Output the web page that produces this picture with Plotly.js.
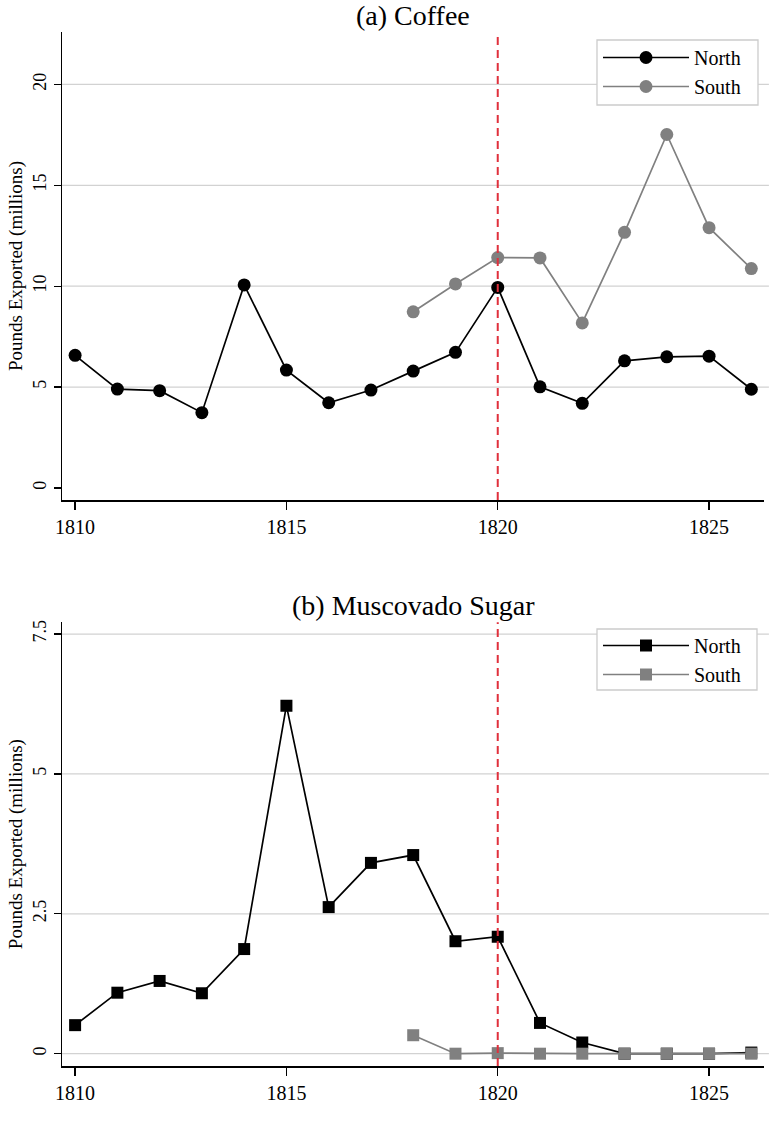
<!DOCTYPE html>
<html><head><meta charset="utf-8">
<script src="https://cdn.plot.ly/plotly-3.0.1.min.js"></script>
<style>body{margin:0;background:#fff}</style>
</head><body><div id="chart" style="width:780px;height:1131px"></div>
<script>
const years = [1810,1811,1812,1813,1814,1815,1816,1817,1818,1819,1820,1821,1822,1823,1824,1825,1826];
const coffeeNorth = [6.57,4.90,4.82,3.73,10.06,5.84,4.22,4.85,5.79,6.72,9.94,5.01,4.19,6.30,6.50,6.53,4.89];
const southYears = [1818,1819,1820,1821,1822,1823,1824,1825,1826];
const coffeeSouth = [8.73,10.11,11.42,11.40,8.18,12.67,17.52,12.90,10.87];
const sugarNorth = [0.51,1.09,1.30,1.08,1.87,6.22,2.62,3.41,3.55,2.01,2.09,0.55,0.20,0.0,0.0,0.0,0.02];
const sugarSouth = [0.33,0.0,0.01,0.0,0.0,0.0,0.0,0.0,0.0];
const xTicks = [1810,1815,1820,1825];
const coffeeYTicks = [0,5,10,15,20];
const coffeeGrid = [5,10,15,20];
const sugarYTicks = [0,2.5,5,7.5];
const sugarYTickText = ['0','2.5','5','7.5'];
const sugarGrid = [0,2.5,5,7.5];
const policyYear = 1820;
const seriesNames = ['North','South'];
const panelTitles = ['(a) Coffee','(b) Muscovado Sugar'];
const yTitle = 'Pounds Exported (millions)';

const FONT = 'Liberation Serif, Times New Roman, serif';
const BLACK = '#000000', GRAY = '#808080', RED = '#e0303c', GRID = '#d2d2d2';

const traces = [
  {x: years, y: coffeeNorth, name: seriesNames[0], xaxis:'x', yaxis:'y', legend:'legend',
   mode:'lines+markers', line:{color:BLACK,width:1.7}, marker:{symbol:'circle',size:13,color:BLACK}},
  {x: southYears, y: coffeeSouth, name: seriesNames[1], xaxis:'x', yaxis:'y', legend:'legend',
   mode:'lines+markers', line:{color:GRAY,width:1.7}, marker:{symbol:'circle',size:13,color:GRAY}},
  {x: years, y: sugarNorth, name: seriesNames[0], xaxis:'x2', yaxis:'y2', legend:'legend2',
   mode:'lines+markers', line:{color:BLACK,width:1.7}, marker:{symbol:'square',size:12,color:BLACK}},
  {x: southYears, y: sugarSouth, name: seriesNames[1], xaxis:'x2', yaxis:'y2', legend:'legend2',
   mode:'lines+markers', line:{color:GRAY,width:1.7}, marker:{symbol:'square',size:12,color:GRAY}}
];

const W = 780, H = 1131;
const px = v => v / W, py = v => (H - v) / H;

function xAxis(anchor, dom) {
  return {domain: dom, anchor: anchor, range:[1809.69,1826.3], tickvals: xTicks, ticktext: xTicks.map(String),
    showgrid:false, zeroline:false, showline:true, linecolor:BLACK, linewidth:1.5,
    ticks:'outside', ticklen:8, tickwidth:1.3, tickcolor:BLACK,
    tickfont:{family:FONT,size:20,color:BLACK}, fixedrange:true};
}
function yAxis(anchor, dom, range, tv, tt) {
  return {domain: dom, anchor: anchor, range: range, tickvals: tv, ticktext: tt,
    showgrid:false, zeroline:false,
    showline:true, linecolor:BLACK, linewidth:1.5,
    ticks:'outside', ticklen:7, tickwidth:1.3, tickcolor:BLACK, tickangle:-90,
    tickfont:{family:FONT,size:18,color:BLACK}, fixedrange:true};
}

const shapes = [];
coffeeGrid.forEach(v => shapes.push({type:'line', xref:'x domain', yref:'y', x0:0, x1:1.007, y0:v, y1:v,
  layer:'below', line:{color:GRID, width:1.2}}));
sugarGrid.forEach(v => shapes.push({type:'line', xref:'x2 domain', yref:'y2', x0:0, x1:1.007, y0:v, y1:v,
  layer:'below', line:{color:GRID, width:1.2}}));
shapes.push({type:'line', xref:'x', yref:'y domain', x0:policyYear, x1:policyYear, y0:0, y1:1,
  line:{color:RED, width:2, dash:'8px,5px'}});
shapes.push({type:'line', xref:'x2', yref:'y2 domain', x0:policyYear, x1:policyYear, y0:0, y1:1,
  line:{color:RED, width:2, dash:'8px,5px'}});
// legend boxes
shapes.push({type:'rect', xref:'paper', yref:'paper', x0:px(597), x1:px(758), y0:py(105), y1:py(40),
  layer:'above', fillcolor:'#ffffff', line:{color:'#cccccc', width:1.3}});
shapes.push({type:'rect', xref:'paper', yref:'paper', x0:px(597), x1:px(757), y0:py(690), y1:py(629),
  layer:'above', fillcolor:'#ffffff', line:{color:'#cccccc', width:1.3}});

const legendBase = {xanchor:'left', yanchor:'top', bgcolor:'rgba(0,0,0,0)', borderwidth:0,
  font:{family:FONT,size:20,color:BLACK}, itemwidth:86, tracegroupgap:0};

const layout = {
  width: W, height: H, margin:{l:0,r:0,t:0,b:0},
  paper_bgcolor:'#fff', plot_bgcolor:'#fff', showlegend:true,
  font:{family:FONT,color:BLACK},
  xaxis: xAxis('y', [px(62), px(764)]),
  yaxis: yAxis('x', [py(500), py(32)], [-0.6,22.6], coffeeYTicks, coffeeYTicks.map(String)),
  xaxis2: xAxis('y2', [px(62), px(764)]),
  yaxis2: yAxis('x2', [py(1066), py(622.3)], [-0.22,7.71], sugarYTicks, sugarYTickText),
  legend: Object.assign({x: px(598), y: py(38)}, legendBase),
  legend2: Object.assign({x: px(598), y: py(626)}, legendBase),
  shapes: shapes,
  annotations: [
    {text: panelTitles[0], xref:'paper', yref:'paper', x: px(413), y: py(15), xanchor:'center', yanchor:'middle',
     showarrow:false, font:{family:FONT,size:28,color:BLACK}},
    {text: panelTitles[1], xref:'paper', yref:'paper', x: px(413), y: py(605), xanchor:'center', yanchor:'middle',
     showarrow:false, font:{family:FONT,size:28,color:BLACK}},
    {text: yTitle, xref:'paper', yref:'y domain', x: px(16), y: 0.5, xanchor:'center', yanchor:'middle',
     textangle:-90, showarrow:false, font:{family:FONT,size:19,color:BLACK}},
    {text: yTitle, xref:'paper', yref:'y2 domain', x: px(16), y: 0.5, xanchor:'center', yanchor:'middle',
     textangle:-90, showarrow:false, font:{family:FONT,size:19,color:BLACK}}
  ]
};

Plotly.newPlot('chart', traces, layout, {staticPlot:true, displayModeBar:false});
</script></body></html>
